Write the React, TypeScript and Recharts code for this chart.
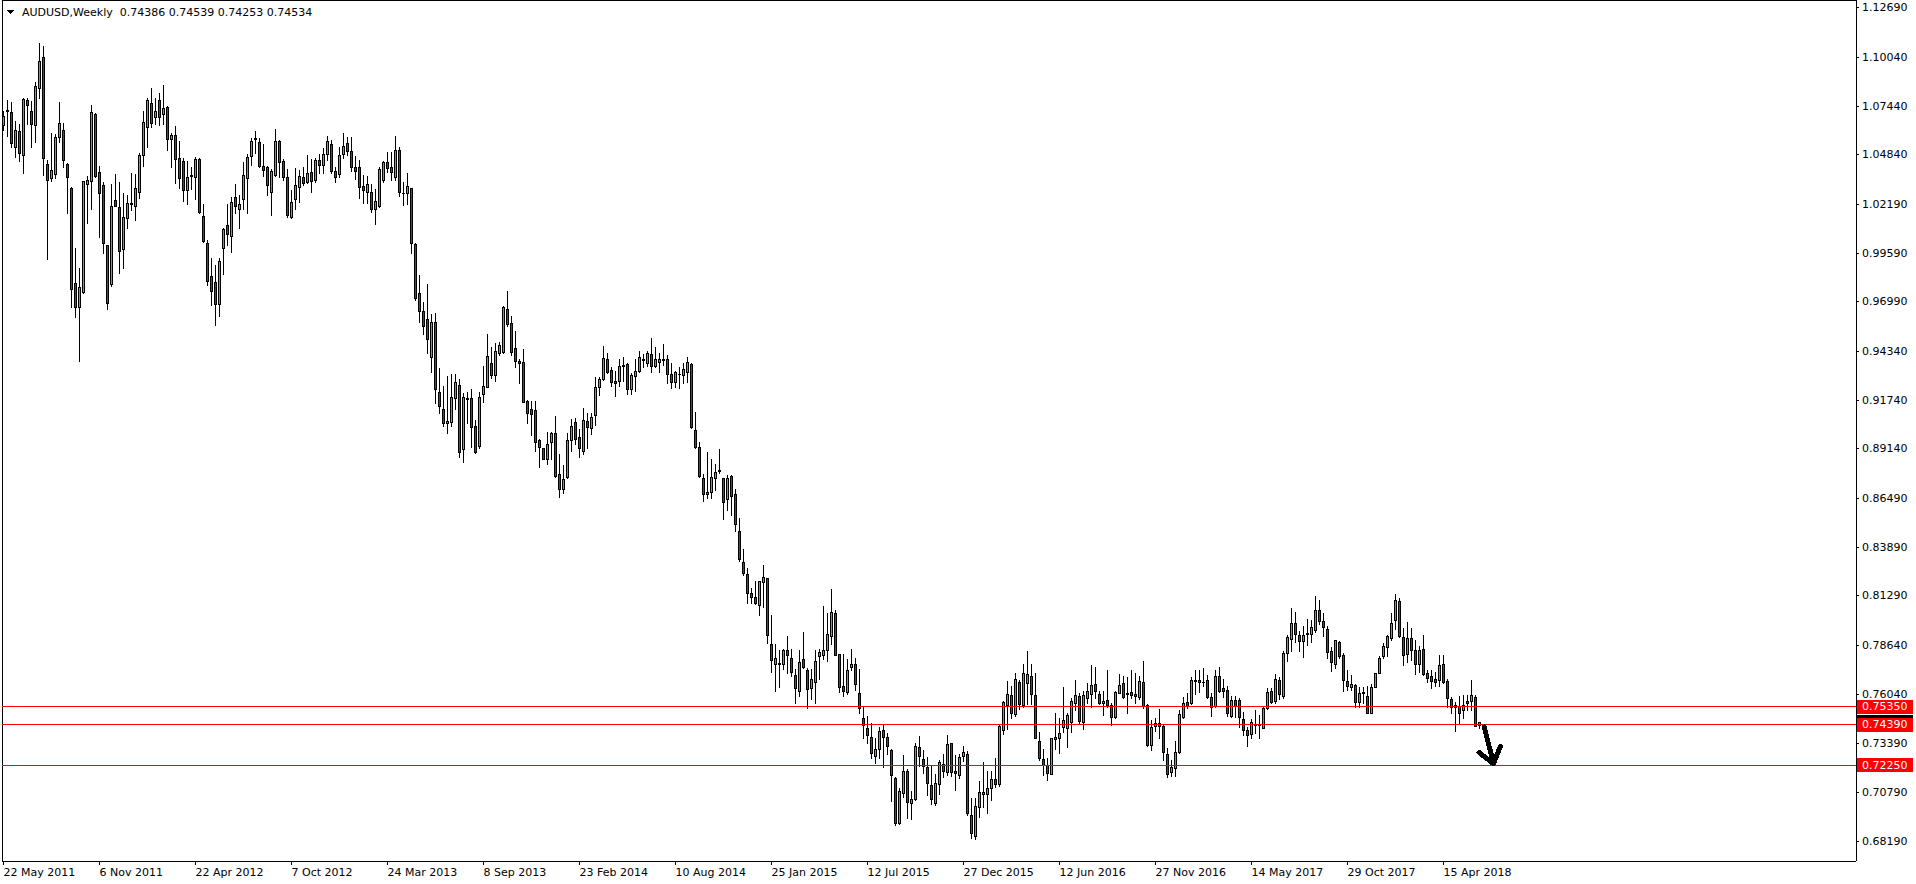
import React from 'react';
import { ComposedChart, Bar, XAxis, YAxis, ReferenceLine } from 'recharts';

// Weekly AUDUSD candles, one entry per week starting 22 May 2011
const opens = [
1.0641,1.0719,1.0712,1.0523,1.0611,1.0481,1.0776,1.0718,1.0641,1.0838,
1.1004,1.0433,1.0359,1.0380,1.0580,1.0617,1.0435,1.0306,0.9797,0.9669,
0.9753,1.0326,1.0343,1.0702,1.0390,1.0322,1.0002,0.9794,1.0241,1.0205,
0.9979,1.0145,1.0222,1.0210,1.0287,1.0484,1.0634,1.0760,1.0684,1.0774,
1.0703,1.0737,1.0569,1.0592,1.0465,1.0451,1.0295,1.0369,1.0367,1.0461,
1.0157,1.0012,0.9837,0.9807,0.9689,0.9988,1.0109,1.0048,1.0256,1.0193,
1.0246,1.0358,1.0475,1.0568,1.0552,1.0424,1.0419,1.0287,1.0374,1.0557,
1.0451,1.0364,1.0154,1.0246,1.0313,1.0364,1.0336,1.0392,1.0348,1.0456,
1.0428,1.0486,1.0541,1.0397,1.0380,1.0486,1.0545,1.0504,1.0417,1.0417,
1.0317,1.0286,1.0285,1.0193,1.0210,1.0350,1.0444,1.0417,1.0367,1.0509,
1.0281,1.0281,1.0304,1.0009,0.9744,0.9650,0.9605,0.9406,0.9591,0.9215,
0.9125,0.9050,0.9059,0.9183,0.9254,0.8911,0.9187,0.9185,0.9033,0.8930,
0.9205,0.9245,0.9370,0.9310,0.9427,0.9429,0.9659,0.9584,0.9450,0.9383,
0.9376,0.9167,0.9126,0.9121,0.8961,0.8916,0.8858,0.8952,0.8998,0.8780,
0.8699,0.8762,0.8959,0.9055,0.8975,0.8904,0.9064,0.9024,0.9093,0.9245,
0.9285,0.9392,0.9335,0.9276,0.9278,0.9356,0.9365,0.9231,0.9305,0.9331,
0.9388,0.9374,0.9418,0.9358,0.9379,0.9390,0.9391,0.9313,0.9273,0.9312,
0.9308,0.9322,0.9367,0.9015,0.8925,0.8757,0.8670,0.8685,0.8760,0.8796,
0.8757,0.8644,0.8769,0.8672,0.8475,0.8308,0.8244,0.8142,0.8121,0.8078,
0.8205,0.8223,0.7869,0.7764,0.7771,0.7767,0.7842,0.7799,0.7705,0.7620,
0.7789,0.7732,0.7638,0.7666,0.7806,0.7815,0.7838,0.7916,0.8035,0.7820,
0.7647,0.7617,0.7750,0.7762,0.7608,0.7475,0.7422,0.7377,0.7271,0.7310,
0.7413,0.7374,0.7306,0.7156,0.6914,0.7077,0.7191,0.7021,0.7044,0.7321,
0.7257,0.7214,0.7118,0.7024,0.7122,0.7230,0.7188,0.7342,0.7191,0.7170,
0.7271,0.7285,0.6959,0.6848,0.6999,0.7070,0.7069,0.7100,0.7150,0.7122,
0.7413,0.7546,0.7599,0.7496,0.7666,0.7546,0.7661,0.7702,0.7597,0.7354,
0.7257,0.7223,0.7179,0.7363,0.7372,0.7430,0.7421,0.7455,0.7558,0.7593,
0.7457,0.7585,0.7604,0.7657,0.7602,0.7554,0.7572,0.7546,0.7480,0.7611,
0.7661,0.7611,0.7615,0.7604,0.7590,0.7666,0.7544,0.7333,0.7434,0.7452,
0.7436,0.7283,0.7186,0.7209,0.7292,0.7480,0.7562,0.7554,0.7673,0.7679,
0.7670,0.7679,0.7590,0.7542,0.7703,0.7636,0.7625,0.7489,0.7572,0.7572,
0.7471,0.7413,0.7390,0.7441,0.7441,0.7425,0.7528,0.7620,0.7569,0.7679,
0.7595,0.7824,0.7900,0.7982,0.7918,0.7888,0.7925,0.7927,0.7947,0.8053,
0.7996,0.7950,0.7833,0.7767,0.7881,0.7815,0.7673,0.7643,0.7652,0.7563,
0.7609,0.7594,0.7505,0.7643,0.7719,0.7808,0.7856,0.7906,0.8000,0.8101,
0.7909,0.7817,0.7906,0.7838,0.7764,0.7847,0.7714,0.7700,0.7687,0.7679,
0.7762,0.7673,0.7578,0.7544,0.7540,0.7519,0.7567,0.7567,0.7590,0.74386,
];

const highs = [
1.0719,1.0776,1.0766,1.0666,1.0648,1.0785,1.0785,1.0771,1.0875,1.1079,
1.1064,1.0456,1.0601,1.0593,1.0766,1.0652,1.0442,1.0313,0.9986,0.9879,
1.0344,1.0373,1.0750,1.0707,1.0426,1.0336,1.0002,1.0327,1.0382,1.0336,
1.0278,1.0267,1.0385,1.0382,1.0491,1.0718,1.0785,1.0838,1.0789,1.0815,
1.0856,1.0744,1.0598,1.0638,1.0557,1.0465,1.0451,1.0417,1.0474,1.0465,
1.0221,1.0028,0.9931,0.9896,0.9931,1.0095,1.0221,1.0256,1.0327,1.0269,
1.0447,1.0486,1.0575,1.0611,1.0575,1.0541,1.0424,1.0406,1.0620,1.0562,
1.0461,1.0410,1.0295,1.0412,1.0403,1.0417,1.0483,1.0459,1.0465,1.0488,
1.0522,1.0584,1.0562,1.0417,1.0523,1.0598,1.0577,1.0577,1.0477,1.0456,
1.0376,1.0371,1.0327,1.0299,1.0417,1.0452,1.0498,1.0498,1.0584,1.0523,
1.0338,1.0385,1.0308,1.0011,0.9842,0.9699,0.9792,0.9632,0.9637,0.9344,
0.9249,0.9303,0.9314,0.9314,0.9285,0.9210,0.9219,0.9231,0.9068,0.9217,
0.9356,0.9525,0.9456,0.9477,0.9484,0.9676,0.9756,0.9623,0.9543,0.9393,
0.9447,0.9174,0.9169,0.9169,0.8966,0.8920,0.9001,0.9001,0.9089,0.8886,
0.8828,0.8996,0.9071,0.9080,0.9018,0.9132,0.9107,0.9107,0.9296,0.9299,
0.9462,0.9423,0.9349,0.9329,0.9393,0.9406,0.9370,0.9321,0.9392,0.9436,
0.9420,0.9438,0.9503,0.9455,0.9427,0.9473,0.9415,0.9370,0.9331,0.9353,
0.9370,0.9406,0.9374,0.9112,0.8952,0.8780,0.8898,0.8858,0.8833,0.8913,
0.8760,0.8774,0.8774,0.8699,0.8546,0.8377,0.8276,0.8172,0.8210,0.8210,
0.8292,0.8226,0.8025,0.7874,0.7842,0.7847,0.7913,0.7847,0.7736,0.7838,
0.7938,0.7744,0.7736,0.7842,0.7847,0.8076,0.8035,0.8165,0.8053,0.7820,
0.7817,0.7789,0.7847,0.7794,0.7737,0.7537,0.7487,0.7448,0.7368,0.7427,
0.7439,0.7395,0.7312,0.7161,0.7100,0.7280,0.7203,0.7086,0.7345,0.7381,
0.7306,0.7266,0.7223,0.7179,0.7253,0.7285,0.7386,0.7345,0.7280,0.7283,
0.7328,0.7301,0.7047,0.7047,0.7141,0.7241,0.7191,0.7191,0.7262,0.7445,
0.7567,0.7675,0.7647,0.7719,0.7679,0.7767,0.7833,0.7764,0.7717,0.7402,
0.7310,0.7262,0.7368,0.7501,0.7475,0.7643,0.7505,0.7585,0.7679,0.7611,
0.7620,0.7665,0.7758,0.7746,0.7620,0.7620,0.7732,0.7554,0.7620,0.7709,
0.7700,0.7696,0.7732,0.7714,0.7700,0.7780,0.7551,0.7466,0.7475,0.7523,
0.7439,0.7315,0.7253,0.7356,0.7519,0.7590,0.7608,0.7696,0.7732,0.7735,
0.7741,0.7705,0.7611,0.7732,0.7746,0.7682,0.7647,0.7595,0.7595,0.7581,
0.7510,0.7430,0.7469,0.7519,0.7492,0.7537,0.7634,0.7634,0.7710,0.7696,
0.7835,0.7918,0.8062,0.8041,0.7943,0.7968,0.8003,0.8000,0.8127,0.8106,
0.8035,0.7970,0.7856,0.7895,0.7886,0.7821,0.7732,0.7705,0.7656,0.7643,
0.7643,0.7647,0.7656,0.7719,0.7806,0.7877,0.7921,0.8035,0.8138,0.8115,
0.7955,0.7987,0.7955,0.7891,0.7861,0.7918,0.7732,0.7732,0.7723,0.7812,
0.7812,0.7684,0.7587,0.7563,0.7595,0.7599,0.7599,0.7679,0.7600,0.74539,
];

const lows = [
1.0617,1.0584,1.0523,1.0474,1.0452,1.0389,1.0648,1.0523,1.0554,1.0789,
1.0375,0.9926,1.0346,1.0359,1.0554,1.0417,1.0175,0.9669,0.9620,0.9385,
0.9747,1.0118,1.0196,1.0367,1.0046,0.9961,0.9662,0.9783,1.0210,0.9855,
0.9881,1.0093,1.0189,1.0136,1.0251,1.0426,1.0523,1.0634,1.0647,1.0645,
1.0647,1.0509,1.0420,1.0331,1.0304,1.0239,1.0223,1.0301,1.0246,1.0175,
1.0018,0.9788,0.9682,0.9577,0.9625,0.9849,1.0002,0.9966,1.0171,1.0095,
1.0194,1.0175,1.0431,1.0495,1.0417,1.0371,1.0271,1.0164,1.0371,1.0364,
1.0350,1.0150,1.0148,1.0196,1.0233,1.0325,1.0331,1.0287,1.0338,1.0389,
1.0389,1.0456,1.0389,1.0341,1.0364,1.0465,1.0483,1.0399,1.0355,1.0251,
1.0224,1.0228,1.0180,1.0113,1.0203,1.0341,1.0394,1.0350,1.0350,1.0263,
1.0217,1.0219,0.9957,0.9708,0.9593,0.9525,0.9424,0.9323,0.9160,0.9107,
0.9036,0.8996,0.9033,0.9125,0.8868,0.8842,0.9054,0.8925,0.8890,0.8920,
0.9165,0.9245,0.9294,0.9276,0.9415,0.9427,0.9572,0.9415,0.9349,0.9266,
0.9165,0.9054,0.8985,0.8904,0.8819,0.8858,0.8831,0.8858,0.8762,0.8658,
0.8679,0.8760,0.8904,0.8941,0.8868,0.8886,0.8918,0.8991,0.9041,0.9201,
0.9282,0.9317,0.9249,0.9197,0.9249,0.9278,0.9204,0.9204,0.9224,0.9326,
0.9353,0.9356,0.9326,0.9349,0.9326,0.9361,0.9266,0.9236,0.9245,0.9236,
0.9263,0.9273,0.9023,0.8916,0.8765,0.8637,0.8649,0.8649,0.8693,0.8783,
0.8537,0.8587,0.8560,0.8477,0.8317,0.8240,0.8089,0.8089,0.8085,0.8027,
0.8067,0.7879,0.7720,0.7622,0.7643,0.7737,0.7714,0.7700,0.7558,0.7594,
0.7741,0.7528,0.7576,0.7555,0.7682,0.7789,0.7782,0.7874,0.7810,0.7617,
0.7594,0.7604,0.7732,0.7625,0.7505,0.7372,0.7345,0.7262,0.7235,0.7262,
0.7214,0.7285,0.7035,0.6905,0.6911,0.7056,0.6941,0.6935,0.7038,0.7218,
0.7182,0.7065,0.7017,0.7012,0.7069,0.7161,0.7173,0.7168,0.7091,0.7156,
0.7244,0.6959,0.6834,0.6828,0.6950,0.7003,0.6971,0.7038,0.7109,0.7115,
0.7391,0.7416,0.7475,0.7487,0.7524,0.7533,0.7551,0.7549,0.7368,0.7253,
0.7173,0.7147,0.7177,0.7310,0.7288,0.7404,0.7324,0.7404,0.7519,0.7448,
0.7420,0.7554,0.7537,0.7581,0.7549,0.7492,0.7537,0.7439,0.7475,0.7608,
0.7585,0.7501,0.7581,0.7554,0.7576,0.7528,0.7328,0.7306,0.7409,0.7368,
0.7253,0.7159,0.7164,0.7164,0.7289,0.7475,0.7528,0.7551,0.7602,0.7617,
0.7647,0.7581,0.7489,0.7533,0.7617,0.7586,0.7487,0.7484,0.7480,0.7430,
0.7386,0.7329,0.7368,0.7395,0.7368,0.7422,0.7523,0.7555,0.7558,0.7576,
0.7581,0.7781,0.7835,0.7883,0.7835,0.7803,0.7865,0.7883,0.7938,0.7977,
0.7913,0.7799,0.7728,0.7744,0.7799,0.7622,0.7625,0.7625,0.7533,0.7533,
0.7555,0.7501,0.7501,0.7640,0.7714,0.7799,0.7806,0.7895,0.7950,0.7909,
0.7758,0.7776,0.7785,0.7710,0.7723,0.7705,0.7670,0.7638,0.7647,0.7647,
0.7661,0.7533,0.7505,0.7409,0.7445,0.7475,0.7519,0.7519,0.7436,0.74253,
];

const closes = [
1.0691,1.0721,1.0545,1.0617,1.0495,1.0782,1.0751,1.0647,1.0851,1.0985,
1.0465,1.0348,1.0403,1.0580,1.0652,1.0456,1.0364,0.9765,0.9673,0.9776,
1.0344,1.0350,1.0712,1.0371,1.0281,1.0011,0.9694,1.0210,1.0212,0.9968,
1.0150,1.0225,1.0224,1.0304,1.0483,1.0657,1.0774,1.0656,1.0716,1.0687,
1.0734,1.0566,1.0587,1.0460,1.0358,1.0295,1.0364,1.0374,1.0461,1.0178,
1.0025,0.9812,0.9754,0.9685,0.9917,1.0088,1.0060,1.0232,1.0212,1.0221,
1.0376,1.0472,1.0557,1.0571,1.0422,1.0401,1.0324,1.0399,1.0557,1.0444,
1.0367,1.0164,1.0230,1.0322,1.0371,1.0334,1.0387,1.0344,1.0456,1.0431,
1.0486,1.0557,1.0399,1.0367,1.0483,1.0531,1.0506,1.0421,1.0399,1.0313,
1.0295,1.0326,1.0196,1.0237,1.0408,1.0444,1.0415,1.0394,1.0509,1.0286,
1.0278,1.0317,1.0011,0.9721,0.9652,0.9570,0.9498,0.9591,0.9231,0.9143,
0.9054,0.9063,0.9192,0.9268,0.8895,0.9192,0.9178,0.9029,0.8899,0.9192,
0.9249,0.9410,0.9310,0.9436,0.9466,0.9669,0.9582,0.9432,0.9383,0.9370,
0.9165,0.9107,0.9098,0.8952,0.8922,0.8861,0.8937,0.8998,0.8769,0.8699,
0.8753,0.8959,0.9036,0.8964,0.8920,0.9068,0.9029,0.9082,0.9245,0.9285,
0.9397,0.9326,0.9268,0.9266,0.9356,0.9360,0.9231,0.9306,0.9329,0.9402,
0.9392,0.9423,0.9356,0.9392,0.9393,0.9393,0.9312,0.9273,0.9322,0.9315,
0.9338,0.9376,0.9032,0.8925,0.8769,0.8670,0.8683,0.8762,0.8792,0.8799,
0.8631,0.8757,0.8663,0.8511,0.8324,0.8249,0.8142,0.8121,0.8092,0.8208,
0.8231,0.7918,0.7785,0.7799,0.7764,0.7842,0.7815,0.7720,0.7635,0.7773,
0.7746,0.7629,0.7682,0.7780,0.7830,0.7838,0.7927,0.8041,0.7815,0.7643,
0.7622,0.7732,0.7767,0.7656,0.7528,0.7439,0.7383,0.7289,0.7310,0.7407,
0.7374,0.7329,0.7170,0.6918,0.7086,0.7195,0.7029,0.7042,0.7328,0.7271,
0.7218,0.7131,0.7044,0.7127,0.7239,0.7191,0.7336,0.7186,0.7182,0.7267,
0.7294,0.6971,0.6860,0.7007,0.7079,0.7079,0.7100,0.7152,0.7123,0.7436,
0.7562,0.7602,0.7501,0.7682,0.7549,0.7714,0.7709,0.7602,0.7368,0.7265,
0.7226,0.7182,0.7368,0.7377,0.7395,0.7466,0.7492,0.7567,0.7599,0.7462,
0.7599,0.7620,0.7652,0.7622,0.7558,0.7567,0.7544,0.7484,0.7615,0.7652,
0.7590,0.7602,0.7597,0.7595,0.7673,0.7540,0.7333,0.7430,0.7452,0.7436,
0.7297,0.7177,0.7214,0.7294,0.7498,0.7554,0.7542,0.7679,0.7677,0.7666,
0.7666,0.7590,0.7537,0.7703,0.7622,0.7622,0.7501,0.7572,0.7542,0.7484,
0.7413,0.7383,0.7453,0.7445,0.7445,0.7532,0.7615,0.7562,0.7687,0.7604,
0.7821,0.7909,0.7982,0.7927,0.7888,0.7921,0.7929,0.7964,0.8051,0.7996,
0.7961,0.7827,0.7773,0.7891,0.7808,0.7679,0.7648,0.7657,0.7563,0.7608,
0.7613,0.7505,0.7641,0.7714,0.7799,0.7859,0.7913,0.7982,0.8106,0.7914,
0.7812,0.7906,0.7838,0.7764,0.7842,0.7709,0.7691,0.7675,0.7670,0.7758,
0.7666,0.7581,0.7537,0.7535,0.7505,0.7544,0.7558,0.7599,0.7436,0.74534,
];

const xTickLabels = [
  '22 May 2011', '6 Nov 2011', '22 Apr 2012', '7 Oct 2012', '24 Mar 2013', '8 Sep 2013',
  '23 Feb 2014', '10 Aug 2014', '25 Jan 2015', '12 Jul 2015', '27 Dec 2015', '12 Jun 2016',
  '27 Nov 2016', '14 May 2017', '29 Oct 2017', '15 Apr 2018',
];
const xTickStep = 24;
const xTicks = xTickLabels.map((_, i) => i * xTickStep);

const yTicks = [
  1.1269, 1.1004, 1.0744, 1.0484, 1.0219, 0.9959, 0.9699, 0.9434, 0.9174,
  0.8914, 0.8649, 0.8389, 0.8129, 0.7864, 0.7604, 0.7339, 0.7079, 0.6819,
];

const levels = [0.7535, 0.7439, 0.7225];
const bidPrice = 0.74534;
const headerText = 'AUDUSD,Weekly  0.74386 0.74539 0.74253 0.74534';

// hand-drawn arrow annotation (bar index, price)
const arrowSegments = [
  [{ x: 370.2, y: 0.7428 }, { x: 372.5, y: 0.7232 }],
  [{ x: 368.9, y: 0.7292 }, { x: 372.5, y: 0.7232 }],
  [{ x: 374.2, y: 0.7324 }, { x: 372.5, y: 0.7232 }],
];

const Y_DOMAIN: [number, number] = [0.67126, 1.13104];
const X_DOMAIN: [number, number] = [-0.375, 463.125];

const GREEN = '#32CD32';
const RED = '#FF0000';
const FONT = '"DejaVu Sans", Verdana, sans-serif';

const data = opens.map((o, i) => ({ i, o, h: highs[i], l: lows[i], c: closes[i] }));

const Candle = (props: any) => {
  const { x, y, width, height } = props;
  const d = props.payload ?? props;
  if (x == null || y == null || !d) return null;
  const top = Math.min(y, y + height);
  const bottom = Math.max(y, y + height);
  const span = d.h - d.l;
  const k = span > 0 ? (bottom - top) / span : 0;
  const yo = top + (d.h - d.o) * k;
  const yc = top + (d.h - d.c) * k;
  const cx = Math.round(x + width / 2 - 0.5) + 0.5;
  const wTop = Math.round(top);
  const wBot = Math.round(bottom);
  const bTop = Math.round(Math.min(yo, yc));
  const bBot = Math.round(Math.max(yo, yc));
  const bull = d.c >= d.o;
  return (
    <g>
      <rect x={cx - 0.5} y={wTop} width={1} height={Math.max(1, wBot - wTop + 1)} fill="#000" />
      <rect x={cx - 1.5} y={bTop} width={3} height={Math.max(1, bBot - bTop + 1)} fill="#000" />
      {bBot - bTop >= 2 && (
        <rect x={cx - 0.5} y={bTop + 1} width={1} height={bBot - bTop - 1} fill={bull ? GREEN : RED} />
      )}
    </g>
  );
};

const XTick = (props: any) => {
  const { x, y, payload } = props;
  const label = xTickLabels[Math.round(payload.value / xTickStep)];
  return (
    <text x={x} y={y} fontSize={11} fontFamily={FONT} fill="#000" textAnchor="start" dominantBaseline="central">
      {label}
    </text>
  );
};

const YTick = (props: any) => {
  const { x, y, payload } = props;
  return (
    <text x={x} y={y} fontSize={11} fontFamily={FONT} fill="#000" textAnchor="start" dominantBaseline="central">
      {Number(payload.value).toFixed(5)}
    </text>
  );
};

const PriceLabel = (props: any) => {
  const vb = props.viewBox || {};
  const x = (vb.x ?? 0) + (vb.width ?? 0) + 1;
  const y = vb.y ?? 0;
  return (
    <g>
      <rect x={x} y={Math.round(y) - 7} width={56} height={14} fill={props.bg} />
      <text x={x + 5} y={y} fontSize={11} fontFamily={FONT} fill={props.color} dominantBaseline="central">
        {props.text}
      </text>
    </g>
  );
};

export default function App() {
  return (
    <div style={{ position: 'absolute', left: 0, top: 0, width: 1916, height: 884, background: '#fff', shapeRendering: 'crispEdges' }}>
      <ComposedChart
        width={1916}
        height={884}
        data={data}
        margin={{ top: 0, right: 0, bottom: 0, left: 2 }}
      >
        <XAxis
          dataKey="i"
          type="number"
          domain={X_DOMAIN}
          allowDataOverflow
          ticks={xTicks}
          interval={0}
          height={23}
          tickSize={4}
          tickMargin={7}
          tick={<XTick />}
          axisLine={{ stroke: '#000' }}
          tickLine={{ stroke: '#000' }}
        />
        <YAxis
          type="number"
          orientation="right"
          domain={Y_DOMAIN}
          allowDataOverflow
          ticks={yTicks}
          interval={0}
          width={60}
          tickSize={3}
          tickMargin={3}
          tick={<YTick />}
          axisLine={{ stroke: '#000' }}
          tickLine={{ stroke: '#000' }}
        />
        <ReferenceLine x={X_DOMAIN[0]} stroke="#000" />
        <ReferenceLine y={Y_DOMAIN[1]} stroke="#000" />
        <Bar
          dataKey={(d: any) => [d.l, d.h]}
          barSize={3}
          shape={<Candle />}
          isAnimationActive={false}
        />
        <ReferenceLine
          y={bidPrice}
          stroke="transparent"
          label={<PriceLabel bg="#000" color="#fff" text={bidPrice.toFixed(5)} />}
        />
        {levels.map((lv) => (
          <ReferenceLine
            key={lv}
            y={lv}
            stroke={RED}
            strokeWidth={1}
            label={<PriceLabel bg={RED} color="#fff" text={lv.toFixed(5)} />}
          />
        ))}
        {arrowSegments.map((seg, i) => (
          <ReferenceLine key={'a' + i} segment={seg} stroke="#000" strokeWidth={5} strokeLinecap="round" />
        ))}
      </ComposedChart>
      <svg width={420} height={24} style={{ position: 'absolute', left: 0, top: 0 }}>
        <polygon points="7,10 14,10 10.5,14" fill="#000" />
        <text x={22} y={16} fontSize={11} fontFamily={FONT} fill="#000" style={{ whiteSpace: 'pre' }}>
          {headerText}
        </text>
      </svg>
    </div>
  );
}
